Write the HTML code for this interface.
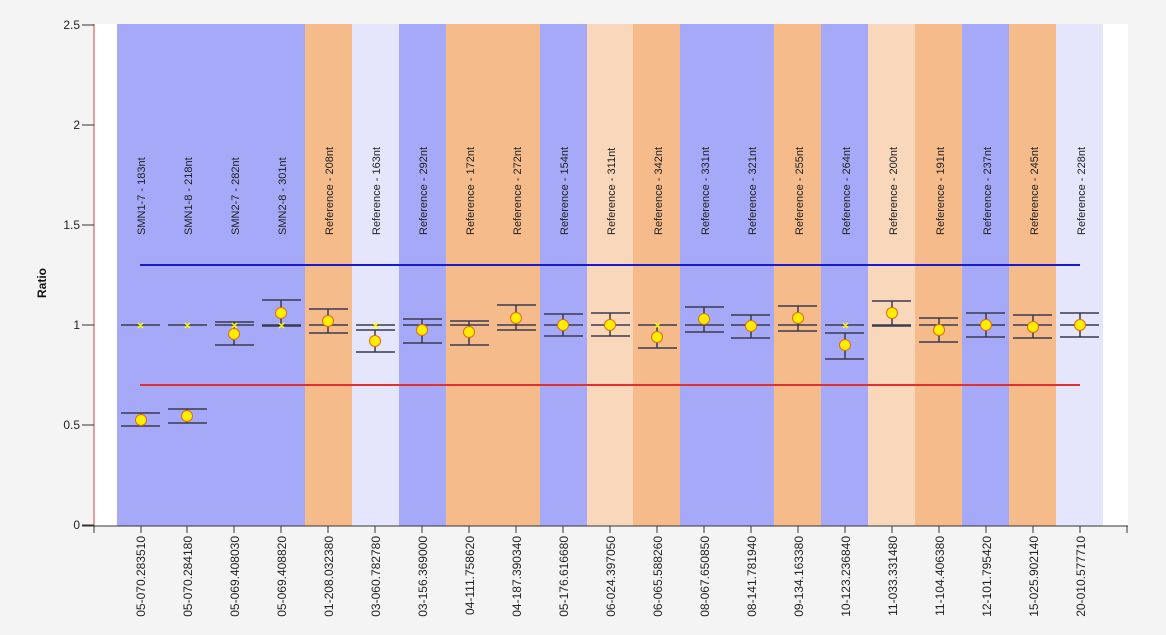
<!DOCTYPE html>
<html><head><meta charset="utf-8"><style>
html,body{margin:0;padding:0;background:#f4f4f4;}
svg{display:block;font-family:"Liberation Sans",Arial,sans-serif;}
</style></head><body>
<svg width="1166" height="635" viewBox="0 0 1166 635" xmlns="http://www.w3.org/2000/svg">
<rect x="94" y="24" width="1034" height="502" fill="#ffffff"/>
<g>
<rect x="117" y="24" width="188" height="502" fill="#a6a9f8"/>
<rect x="305" y="24" width="47" height="502" fill="#f5bb8b"/>
<rect x="352" y="24" width="47" height="502" fill="#e5e5fb"/>
<rect x="399" y="24" width="47" height="502" fill="#a6a9f8"/>
<rect x="446" y="24" width="94" height="502" fill="#f5bb8b"/>
<rect x="540" y="24" width="47" height="502" fill="#a6a9f8"/>
<rect x="587" y="24" width="46" height="502" fill="#f9d7bb"/>
<rect x="633" y="24" width="47" height="502" fill="#f5bb8b"/>
<rect x="680" y="24" width="94" height="502" fill="#a6a9f8"/>
<rect x="774" y="24" width="47" height="502" fill="#f5bb8b"/>
<rect x="821" y="24" width="47" height="502" fill="#a6a9f8"/>
<rect x="868" y="24" width="47" height="502" fill="#f9d7bb"/>
<rect x="915" y="24" width="47" height="502" fill="#f5bb8b"/>
<rect x="962" y="24" width="47" height="502" fill="#a6a9f8"/>
<rect x="1009" y="24" width="47" height="502" fill="#f5bb8b"/>
<rect x="1056" y="24" width="47" height="502" fill="#e5e5fb"/>
</g>
<!-- column labels -->
<g font-size="11" fill="#222" text-anchor="start">
<text transform="translate(145,235) rotate(-90)">SMN1-7 - 183nt</text>
<text transform="translate(192,235) rotate(-90)">SMN1-8 - 218nt</text>
<text transform="translate(239,235) rotate(-90)">SMN2-7 - 282nt</text>
<text transform="translate(286,235) rotate(-90)">SMN2-8 - 301nt</text>
<text transform="translate(333,235) rotate(-90)">Reference - 208nt</text>
<text transform="translate(380,235) rotate(-90)">Reference - 163nt</text>
<text transform="translate(427,235) rotate(-90)">Reference - 292nt</text>
<text transform="translate(474,235) rotate(-90)">Reference - 172nt</text>
<text transform="translate(521,235) rotate(-90)">Reference - 272nt</text>
<text transform="translate(568,235) rotate(-90)">Reference - 154nt</text>
<text transform="translate(615,235) rotate(-90)">Reference - 311nt</text>
<text transform="translate(662,235) rotate(-90)">Reference - 342nt</text>
<text transform="translate(709,235) rotate(-90)">Reference - 331nt</text>
<text transform="translate(756,235) rotate(-90)">Reference - 321nt</text>
<text transform="translate(803,235) rotate(-90)">Reference - 255nt</text>
<text transform="translate(850,235) rotate(-90)">Reference - 264nt</text>
<text transform="translate(897,235) rotate(-90)">Reference - 200nt</text>
<text transform="translate(944,235) rotate(-90)">Reference - 191nt</text>
<text transform="translate(991,235) rotate(-90)">Reference - 237nt</text>
<text transform="translate(1038,235) rotate(-90)">Reference - 245nt</text>
<text transform="translate(1085,235) rotate(-90)">Reference - 228nt</text>
</g>
<!-- threshold lines -->
<line x1="140" y1="265" x2="1080" y2="265" stroke="#1a1ad0" stroke-width="2"/>
<line x1="140" y1="385" x2="1080" y2="385" stroke="#e03030" stroke-width="2"/>
<!-- error bars & reference lines -->
<g stroke="#3a3a50" stroke-width="1.5">
<path d="M121 325h39M121 413h39M121 426h39M141 413v13"/>
<path d="M168 325h39M168 409h39M168 423h39M187 409v14"/>
<path d="M215 325h39M215 322h39M215 345h39M234 322v23"/>
<path d="M262 325h39M262 300h39M262 326h39M281 300v26"/>
<path d="M309 325h39M309 309h39M309 333h39M328 309v24"/>
<path d="M356 325h39M356 330h39M356 352h39M375 330v22"/>
<path d="M403 325h39M403 319h39M403 343h39M422 319v24"/>
<path d="M450 325h39M450 321h39M450 345h39M469 321v24"/>
<path d="M497 325h39M497 305h39M497 330h39M516 305v25"/>
<path d="M544 325h39M544 314h39M544 336h39M563 314v22"/>
<path d="M591 325h39M591 313h39M591 336h39M610 313v23"/>
<path d="M638 325h39M638 325h39M638 348h39M657 325v23"/>
<path d="M685 325h39M685 307h39M685 332h39M704 307v25"/>
<path d="M731 325h39M731 315h39M731 338h39M751 315v23"/>
<path d="M778 325h39M778 306h39M778 331h39M798 306v25"/>
<path d="M825 325h39M825 333h39M825 359h39M845 333v26"/>
<path d="M872 325h39M872 301h39M872 326h39M892 301v25"/>
<path d="M919 325h39M919 318h39M919 342h39M939 318v24"/>
<path d="M966 325h39M966 313h39M966 337h39M986 313v24"/>
<path d="M1013 325h39M1013 315h39M1013 338h39M1033 315v23"/>
<path d="M1060 325h39M1060 313h39M1060 337h39M1080 313v24"/>
</g>
<g stroke="#ffff00" stroke-width="1.5">
<path d="M138 323l5 5M143 323l-5 5M185 323l5 5M190 323l-5 5M232 323l5 5M237 323l-5 5M279 323l5 5M284 323l-5 5M373 323l5 5M378 323l-5 5M655 323l5 5M660 323l-5 5M843 323l5 5M848 323l-5 5"/>
</g>
<g fill="#ffee00" stroke="#e06a10" stroke-width="1">
<circle cx="141" cy="420" r="5.5"/>
<circle cx="187" cy="416" r="5.5"/>
<circle cx="234" cy="334" r="5.5"/>
<circle cx="281" cy="313" r="5.5"/>
<circle cx="328" cy="321" r="5.5"/>
<circle cx="375" cy="341" r="5.5"/>
<circle cx="422" cy="330" r="5.5"/>
<circle cx="469" cy="332" r="5.5"/>
<circle cx="516" cy="318" r="5.5"/>
<circle cx="563" cy="325" r="5.5"/>
<circle cx="610" cy="325" r="5.5"/>
<circle cx="657" cy="337" r="5.5"/>
<circle cx="704" cy="319" r="5.5"/>
<circle cx="751" cy="326" r="5.5"/>
<circle cx="798" cy="318" r="5.5"/>
<circle cx="845" cy="345" r="5.5"/>
<circle cx="892" cy="313" r="5.5"/>
<circle cx="939" cy="330" r="5.5"/>
<circle cx="986" cy="325" r="5.5"/>
<circle cx="1033" cy="327" r="5.5"/>
<circle cx="1080" cy="325" r="5.5"/>
</g>
<!-- axes -->
<line x1="94" y1="24" x2="94" y2="526" stroke="#d04040" stroke-width="1"/>
<line x1="82" y1="526" x2="1128" y2="526" stroke="#333" stroke-width="1"/>
<g stroke="#333">
<path d="M82 25h12M82 125h12M82 225h12M82 325h12M82 425h12M82 525h12"/>
<path d="M94 526v7M141 526v7M187 526v7M234 526v7M281 526v7M328 526v7M375 526v7M422 526v7M469 526v7M516 526v7M563 526v7M610 526v7M657 526v7M704 526v7M751 526v7M798 526v7M845 526v7M892 526v7M939 526v7M986 526v7M1033 526v7M1080 526v7M1127 526v7"/>
</g>
<g font-size="12" fill="#222" text-anchor="end">
<text x="80" y="29">2.5</text>
<text x="80" y="129">2</text>
<text x="80" y="229">1.5</text>
<text x="80" y="329">1</text>
<text x="80" y="429">0.5</text>
<text x="80" y="529">0</text>
</g>
<text transform="translate(46,283) rotate(-90)" font-size="12" font-weight="bold" text-anchor="middle" fill="#111">Ratio</text>
<g font-size="12" fill="#222" text-anchor="end">
<text transform="translate(145,536) rotate(-90)">05-070.283510</text>
<text transform="translate(192,536) rotate(-90)">05-070.284180</text>
<text transform="translate(239,536) rotate(-90)">05-069.408030</text>
<text transform="translate(286,536) rotate(-90)">05-069.408820</text>
<text transform="translate(333,536) rotate(-90)">01-208.032380</text>
<text transform="translate(380,536) rotate(-90)">03-060.782780</text>
<text transform="translate(427,536) rotate(-90)">03-156.369000</text>
<text transform="translate(474,536) rotate(-90)">04-111.758620</text>
<text transform="translate(521,536) rotate(-90)">04-187.390340</text>
<text transform="translate(568,536) rotate(-90)">05-176.616680</text>
<text transform="translate(615,536) rotate(-90)">06-024.397050</text>
<text transform="translate(662,536) rotate(-90)">06-065.588260</text>
<text transform="translate(709,536) rotate(-90)">08-067.650850</text>
<text transform="translate(756,536) rotate(-90)">08-141.781940</text>
<text transform="translate(803,536) rotate(-90)">09-134.163380</text>
<text transform="translate(850,536) rotate(-90)">10-123.236840</text>
<text transform="translate(897,536) rotate(-90)">11-033.331480</text>
<text transform="translate(944,536) rotate(-90)">11-104.406380</text>
<text transform="translate(991,536) rotate(-90)">12-101.795420</text>
<text transform="translate(1038,536) rotate(-90)">15-025.902140</text>
<text transform="translate(1085,536) rotate(-90)">20-010.577710</text>
</g>
</svg>
</body></html>
